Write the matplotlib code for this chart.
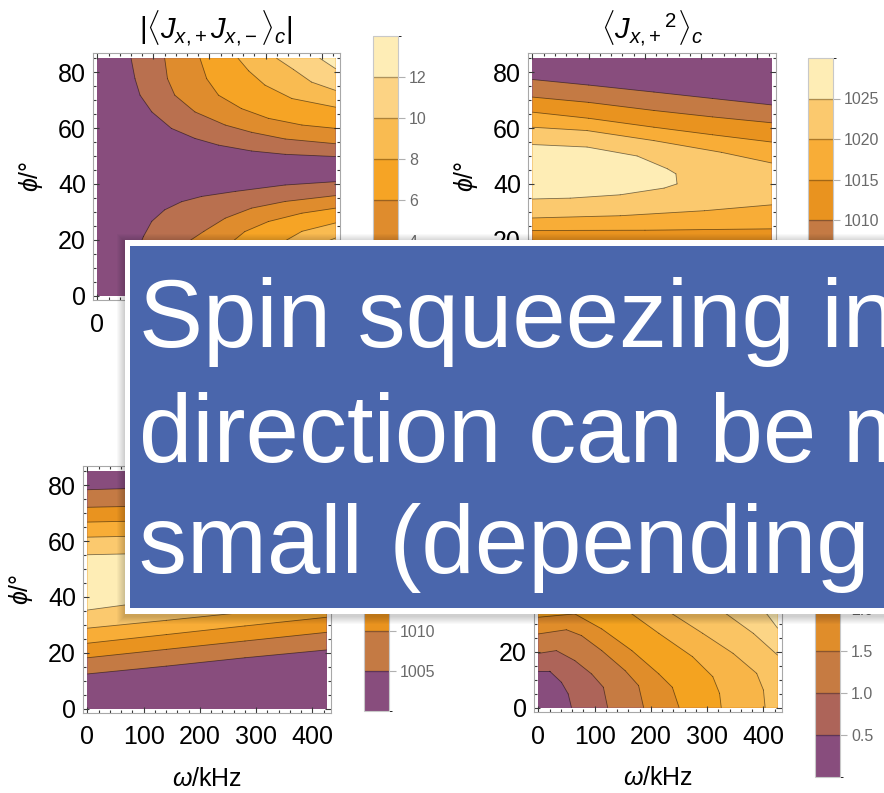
import numpy as np
import matplotlib
matplotlib.use("Agg")
import matplotlib.pyplot as plt
from matplotlib.patches import Rectangle
from matplotlib.colors import ListedColormap, BoundaryNorm
from matplotlib.cm import ScalarMappable

# =========================
# DATA (omega in kHz, phi in degrees)
# =========================
# Each region is the set where the quantity exceeds `level`, given by its outline.
OMEGA_MAX, PHI_MAX = 425, 85

# |<Jx+ Jx->_c|
TL_LEVELS = [0, 2, 4, 6, 8, 10, 12, 14]
TL_COLORS = ["#884d7d", "#b9704f", "#df8c2d", "#f6a425", "#f9bb51", "#fcd384", "#feedb6"]
TL_REGIONS = [
    (2, [60, 67, 76, 97, 132, 174, 216, 275, 335, 425, 425],
        [85, 77.7, 71.8, 65.8, 59.9, 56.3, 53.9, 51.8, 50.6, 49.8, 85]),
    (2, [425, 335, 246, 186, 150, 120, 97, 82, 76, 68, 62, 425],
        [40.8, 39.6, 37.3, 35.5, 33.6, 30.7, 26.6, 21.1, 18.2, 10, 0, 0]),
    (4, [120, 125, 138, 174, 228, 275, 335, 425, 425],
        [85, 77.7, 71.8, 65.8, 61.1, 58.5, 56.1, 54.4, 85]),
    (4, [425, 335, 275, 228, 190, 160, 140, 125, 425],
        [35.8, 33.7, 31.3, 27.7, 23, 19, 12, 0, 0]),
    (6, [183, 195, 216, 257, 305, 365, 425, 425],
        [85, 77.7, 71.8, 67.0, 63.5, 61.1, 59.9, 85]),
    (6, [425, 365, 305, 263, 234, 215, 200, 425],
        [31.3, 29.5, 26.5, 22.9, 18.2, 10, 0, 0]),
    (8, [251, 270, 299, 347, 425, 425], [85, 80.5, 75.4, 70.6, 67.5, 85]),
    (8, [425, 365, 323, 290, 270, 425], [26.0, 23.0, 18.2, 10, 0, 0]),
    (10, [320, 350, 382, 425, 425], [85, 81, 76.5, 73.5, 85]),
    (10, [425, 395, 360, 340, 425], [20.6, 18.2, 10, 0, 0]),
    (12, [397, 425, 425], [85, 81.3, 85]),
    (12, [425, 400, 385, 425], [14, 8, 0, 0]),
]

# <Jx+^2>_c
TR_LEVELS = [1000, 1005, 1010, 1015, 1020, 1025, 1030]
TR_COLORS = ["#884d7d", "#c47a44", "#e9931f", "#f8ad37", "#fbc96e", "#feedb5"]
TR_REGIONS = [
    (1005, [0, 100, 216, 320, 425, 425, 200, 0],
           [77.4, 75.4, 72.9, 70.6, 68.3, 14, 13, 12]),
    (1010, [0, 100, 216, 320, 425, 425, 200, 0],
           [71.1, 69.2, 66.3, 64.0, 61.9, 19, 18.5, 18]),
    (1015, [0, 100, 216, 320, 425, 425, 200, 0],
           [65.7, 63.5, 60.3, 57.6, 55.0, 23.9, 23.4, 23.3]),
    (1020, [0, 97, 216, 336, 425, 425, 306, 156, 0],
           [60.3, 59.1, 55.5, 51.3, 47.5, 32.5, 30.4, 28.6, 27.8]),
    (1025, [0, 97, 186, 240, 255, 257, 234, 156, 67, 0],
           [54.1, 53.2, 50.0, 45.4, 43.6, 40.0, 38.5, 36.1, 34.9, 34.6]),
]

# lower left panel
BL_LEVELS = [1000, 1005, 1010, 1015, 1020, 1025, 1030]
BL_COLORS = ["#884d7d", "#c47a44", "#e9931f", "#f8ad37", "#fbc96e", "#feedb5"]
BL_REGIONS = [
    (1005, [0, 70, 250, 425, 425, 280, 140, 0],
           [78.4, 78.8, 80.5, 82, 21.0, 18.2, 15.2, 12.4]),
    (1010, [0, 70, 250, 425, 425, 280, 140, 0],
           [72.1, 72.4, 74, 75.5, 27.3, 24.2, 21.2, 18.2]),
    (1015, [0, 70, 250, 425, 425, 280, 140, 0],
           [66.8, 67.1, 68.5, 70, 32.7, 29.6, 26.5, 23.4]),
    (1020, [0, 70, 250, 425, 425, 280, 140, 0],
           [61.4, 61.7, 63, 64.5, 37.5, 34.5, 31.6, 28.8]),
    (1025, [0, 70, 250, 425, 425, 250, 70, 0],
           [55.1, 55.4, 56.8, 58, 44, 40, 37.2, 35.3]),
]

# lower right panel
BR_LEVELS = [0, 0.5, 1.0, 1.5, 2.0, 2.5, 3.0, 3.5, 4.0, 4.5]
BR_COLORS = ["#884d7d", "#ad6459", "#c67b42", "#e08d2a", "#f4a320",
             "#f8b548", "#fac463", "#fcd586", "#feedb5"]
BR_REGIONS = [
    (0.5, [0, 19.8, 40.8, 52.8, 58.7, 425, 425, 0],
          [13.1, 13.1, 9.1, 4.9, 0, 0, 85, 85]),
    (1.0, [0, 31.7, 64.6, 94.5, 115.4, 123, 425, 425, 0],
          [19.5, 20.5, 16.9, 12.1, 7.3, 0, 0, 85, 85]),
    (1.5, [0, 49.6, 76.5, 112.5, 154, 178, 187, 425, 425, 0],
          [26.5, 28.0, 25.9, 20.5, 13.3, 7.9, 0, 0, 85, 85]),
    (2.0, [0, 64.6, 112.5, 166, 214, 238, 250, 425, 425, 0],
          [32.5, 33.7, 28.3, 20.5, 12.1, 7.3, 0, 0, 85, 85]),
    (2.5, [0, 60, 120, 166, 214, 274, 310, 322, 325, 425, 425, 0],
          [56, 48, 40, 33.7, 26.7, 18.3, 11.1, 5.1, 0, 0, 85, 85]),
    (3.0, [0, 100, 180, 238, 292, 346, 388, 400, 403, 425, 425, 0],
          [68, 55, 42, 33.7, 26.7, 19.5, 12.3, 6.3, 0, 0, 85, 85]),
    (3.5, [20, 60, 180, 280, 334, 382, 425, 425],
          [85, 78, 58, 42, 33.7, 26.7, 18.9, 85]),
    (4.0, [150, 230, 330, 406, 425, 425],
          [85, 65, 45, 33.7, 28.6, 85]),
]

# figure geometry in pixels: (left, top, right, bottom)
W, H = 884, 793
FRAMES = {"tl": (93, 53, 340, 300), "tr": (528, 53, 776, 300),
          "bl": (83, 466, 331, 713), "br": (534, 466, 782, 712)}
BARS = {"tl": (373, 36, 398, 323), "tr": (808, 58, 833, 301),
        "bl": (364, 471, 389, 711), "br": (815, 399, 840, 777)}

BOX_TEXT = ["Spin squeezing in", "direction can be made", "small (depending on \u03c9)"]

plt.rcParams["mathtext.fontset"] = "custom"
plt.rcParams["mathtext.rm"] = "Liberation Sans"
plt.rcParams["mathtext.it"] = "Liberation Sans:italic"
plt.rcParams["font.family"] = ["Liberation Sans", "DejaVu Sans"]


def px_rect(box):
    x0, y0, x1, y1 = box
    return [x0 / W, 1 - y1 / H, (x1 - x0) / W, (y1 - y0) / H]


def on_edge(a, b):
    # a segment lying along the plot range border gets no contour line
    for i, lim in ((0, 0), (0, OMEGA_MAX), (1, 0), (1, PHI_MAX)):
        if a[i] == lim and b[i] == lim:
            return True
    return False


def style_frame(ax):
    ax.set_xlim(-8, 433)
    ax.set_ylim(-1.6, 86.9)
    ax.set_xticks([0, 100, 200, 300, 400])
    ax.set_xticks(np.arange(0, 430, 20), minor=True)
    ax.set_yticks([0, 20, 40, 60, 80])
    ax.set_yticks(np.arange(0, 86, 5), minor=True)
    ax.tick_params(which="both", direction="in", top=True, right=True,
                   color="#3a3a3a", width=0.8)
    ax.tick_params(which="major", length=4.5, labelsize=18)
    ax.tick_params(axis="x", which="major", pad=9)
    ax.tick_params(axis="y", which="major", pad=5)
    ax.tick_params(which="minor", length=2.5)
    for s in ax.spines.values():
        s.set_color("#a8a8a8")
        s.set_linewidth(0.8)


def panel(fig, key, regions, levels, colors, ticks, ticklabels):
    ax = fig.add_axes(px_rect(FRAMES[key]))
    ax.add_patch(Rectangle((0, 0), OMEGA_MAX, PHI_MAX, facecolor=colors[0],
                           edgecolor="none"))
    for level, om, ph in regions:
        band = levels.index(level)
        ax.fill(om, ph, facecolor=colors[band], edgecolor="none")
    for level, om, ph in regions:
        pts = list(zip(om, ph)) + [(om[0], ph[0])]
        for a, b in zip(pts[:-1], pts[1:]):
            if not on_edge(a, b):
                ax.plot([a[0], b[0]], [a[1], b[1]], color=(0, 0, 0, 0.5),
                        lw=0.6, solid_capstyle="round")
    style_frame(ax)

    cax = fig.add_axes(px_rect(BARS[key]))
    sm = ScalarMappable(norm=BoundaryNorm(levels, len(colors)),
                        cmap=ListedColormap(colors))
    cb = fig.colorbar(sm, cax=cax, ticks=ticks)
    cb.set_ticklabels(ticklabels)
    for lv in levels[1:-1]:
        cax.axhline(lv, color=(0, 0, 0, 0.3), lw=1)
    cb.outline.set_edgecolor("#c8c8c8")
    cb.outline.set_linewidth(0.8)
    cax.tick_params(length=5, width=0.8, color="#b0b0b0", labelcolor="#6a6a6a",
                    labelsize=11.5, pad=3)

    x0, y0, x1, y1 = FRAMES[key]
    fig.text((x0 - 62) / W, 1 - (y0 + y1) / 2 / H, r"$\phi$/°", rotation=90,
             ha="center", va="center", fontsize=18)
    fig.text((x0 + x1) / 2 / W, 1 - (y1 + 66) / H, r"$\omega$/kHz",
             ha="center", va="center", fontsize=18)
    return ax


def main():
    fig = plt.figure(figsize=(W / 100, H / 100), dpi=100)
    fig.patch.set_facecolor("white")

    # =========================
    # CONTOUR PANELS
    # =========================
    panel(fig, "tl", TL_REGIONS, TL_LEVELS, TL_COLORS,
          [2, 4, 6, 8, 10, 12], ["2", "4", "6", "8", "10", "12"])
    panel(fig, "tr", TR_REGIONS, TR_LEVELS, TR_COLORS,
          [1005, 1010, 1015, 1020, 1025], ["1005", "1010", "1015", "1020", "1025"])
    panel(fig, "bl", BL_REGIONS, BL_LEVELS, BL_COLORS,
          [1005, 1010, 1015, 1020, 1025], ["1005", "1010", "1015", "1020", "1025"])
    panel(fig, "br", BR_REGIONS, BR_LEVELS, BR_COLORS,
          BR_LEVELS[1:-1], ["%.1f" % t for t in BR_LEVELS[1:-1]])

    fig.text(216 / W, 1 - 39 / H, r"$|\langle J_{x{,}+}J_{x{,}-}\rangle_c|$",
             ha="center", va="baseline", fontsize=21)
    fig.text(652 / W, 1 - 39 / H, r"$\langle J_{x{,}+}{}^{2}\rangle_c$",
             ha="center", va="baseline", fontsize=21)

    # =========================
    # CALLOUT BOX
    # =========================
    ov = fig.add_axes([0, 0, 1, 1], zorder=10)
    ov.set_xlim(0, W)
    ov.set_ylim(H, 0)
    ov.axis("off")
    ov.patch.set_alpha(0)
    for k in range(1, 9):
        ov.add_patch(Rectangle((125 - k, 240 - k + 2), 800 + 2 * k, 374 + 2 * k,
                               facecolor="black", edgecolor="none", alpha=0.022))
    ov.add_patch(Rectangle((125, 240), 800, 374, facecolor="white", edgecolor="none"))
    ov.add_patch(Rectangle((130, 246), 800, 362, facecolor="#4a66ac", edgecolor="none"))
    for line, base in zip(BOX_TEXT, [347, 462, 573]):
        ov.text(139, base, line, color="white", fontsize=69, ha="left",
                va="baseline", family="Liberation Sans")

    fig.savefig("out.png", dpi=100)


if __name__ == "__main__":
    main()
